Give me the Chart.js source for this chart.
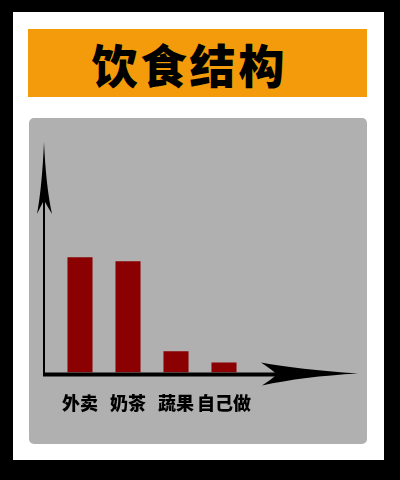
<!DOCTYPE html>
<html>
<head>
<meta charset="utf-8">
<script src="https://cdn.jsdelivr.net/npm/chart.js@4/dist/chart.umd.min.js"></script>
<style>
  html, body { margin: 0; padding: 0; background: #000; }
  #page { position: relative; width: 400px; height: 480px; background: #000; overflow: hidden; }
  #sheet { position: absolute; left: 13px; top: 12px; width: 371px; height: 448px; background: #fff; }
  #title {
    position: absolute; left: 28px; top: 29px; width: 339px; height: 68px;
    background: #f39b0a; color: #000;
    font-family: "Noto Sans CJK SC", sans-serif; font-weight: 900;
    font-size: 46px; line-height: 68px; letter-spacing: 3px;
    text-align: center; text-indent: -16px;
  }
  #panel { position: absolute; left: 29px; top: 118px; width: 338px; height: 326px; background: #b0b0b0; border-radius: 5px; }
  #chart { position: absolute; left: 0; top: 0; }
</style>
</head>
<body>
<div id="page">
  <div id="sheet"></div>
  <div id="title">饮食结构</div>
  <div id="panel"></div>
  <canvas id="chart" width="400" height="480"></canvas>
</div>
<script>
const categories = ["外卖", "奶茶", "蔬果", "自己做"];
const values = [115, 111, 21, 10];
const yMax = 230;

// hand-drawn style arrows for both axes
const arrowAxes = {
  id: "arrowAxes",
  afterDatasetsDraw(chart) {
    const { ctx, chartArea: a } = chart;
    const ox = a.left - 12;
    const oy = a.bottom + 2;
    ctx.save();
    ctx.fillStyle = "#000";
    ctx.strokeStyle = "#000";

    // y axis line
    ctx.lineWidth = 2;
    ctx.beginPath();
    ctx.moveTo(ox, oy + 1);
    ctx.lineTo(ox, a.top + 40);
    ctx.stroke();
    // y arrowhead
    const ty = a.top;
    ctx.beginPath();
    ctx.moveTo(ox, ty);
    ctx.quadraticCurveTo(ox - 2, ty + 45, ox - 7, ty + 72);
    ctx.quadraticCurveTo(ox - 2, ty + 62, ox, ty + 58);
    ctx.quadraticCurveTo(ox + 2, ty + 62, ox + 8, ty + 72);
    ctx.quadraticCurveTo(ox + 2, ty + 45, ox, ty);
    ctx.fill();

    // x axis line
    ctx.lineWidth = 4;
    ctx.beginPath();
    ctx.moveTo(ox - 1, oy);
    ctx.lineTo(ox + 240, oy);
    ctx.stroke();
    // x arrowhead
    const tx = ox + 314;
    ctx.beginPath();
    ctx.moveTo(tx, oy - 1);
    ctx.quadraticCurveTo(tx - 60, oy - 5, tx - 97, oy - 12);
    ctx.quadraticCurveTo(tx - 85, oy - 4, tx - 81, oy);
    ctx.quadraticCurveTo(tx - 88, oy + 6, tx - 96, oy + 11);
    ctx.quadraticCurveTo(tx - 55, oy + 2, tx, oy - 1);
    ctx.fill();
    ctx.restore();
  }
};

new Chart(document.getElementById("chart"), {
  type: "bar",
  data: {
    labels: categories,
    datasets: [{
      data: values,
      backgroundColor: "#8b0000",
      borderWidth: 0,
      barPercentage: 0.9,
      categoryPercentage: 0.58
    }]
  },
  options: {
    responsive: false,
    animation: false,
    layout: { padding: { left: 56, right: 152, top: 142, bottom: 46 } },
    plugins: { legend: { display: false }, tooltip: { enabled: false } },
    scales: {
      x: {
        grid: { display: false, drawTicks: false },
        border: { display: false },
        ticks: {
          color: "#000",
          padding: 20,
          maxRotation: 0,
          minRotation: 0,
          autoSkip: false,
          font: { family: "'Noto Sans CJK SC', sans-serif", size: 18, weight: 900 }
        }
      },
      y: {
        display: false,
        min: 0,
        max: yMax
      }
    }
  },
  plugins: [arrowAxes]
});
</script>
</body>
</html>
